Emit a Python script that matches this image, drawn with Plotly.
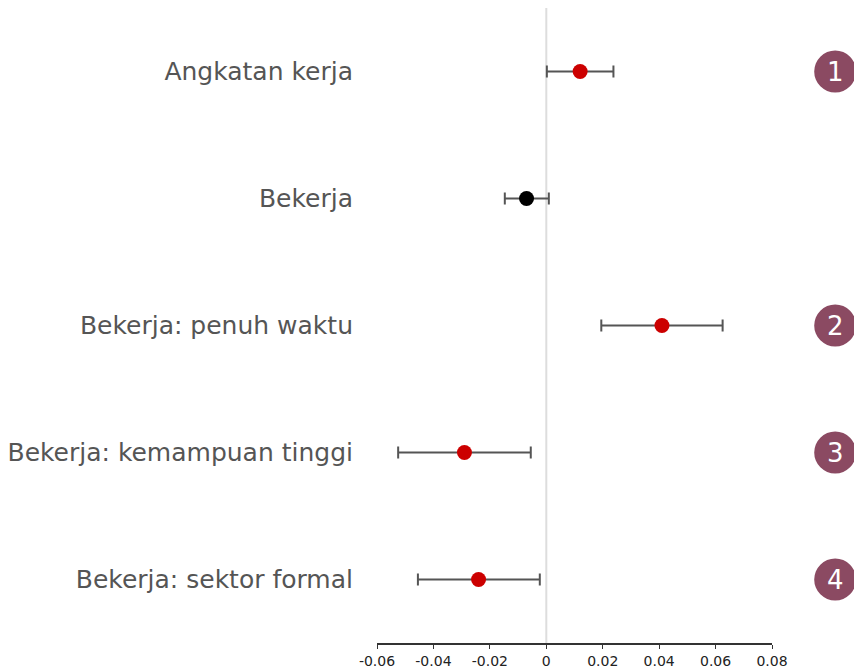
import plotly.graph_objects as go

categories = ["Angkatan kerja", "Bekerja", "Bekerja: penuh waktu",
              "Bekerja: kemampuan tinggi", "Bekerja: sektor formal"]
estimates = [0.012, -0.007, 0.041, -0.029, -0.024]
ci_low = [0.0002, -0.0147, 0.0195, -0.0525, -0.0455]
ci_high = [0.0238, 0.0009, 0.0625, -0.0055, -0.0023]
colors = ["#CC0000", "#000000", "#CC0000", "#CC0000", "#CC0000"]
badges = {"Angkatan kerja": "1", "Bekerja: penuh waktu": "2",
          "Bekerja: kemampuan tinggi": "3", "Bekerja: sektor formal": "4"}
tick_vals = [-0.06, -0.04, -0.02, 0, 0.02, 0.04, 0.06, 0.08]
tick_text = ["-0.06", "-0.04", "-0.02", "0", "0.02", "0.04", "0.06", "0.08"]

err_plus = [h - e for h, e in zip(ci_high, estimates)]
err_minus = [e - l for e, l in zip(estimates, ci_low)]

fig = go.Figure()
fig.add_trace(go.Scatter(
    x=estimates, y=categories, mode="markers",
    marker=dict(size=15, color=colors),
    error_x=dict(type="data", symmetric=False, array=err_plus, arrayminus=err_minus,
                 color="#555555", thickness=2, width=6),
    showlegend=False, hoverinfo="x+y"))

fig.add_shape(type="line", xref="x", yref="paper", x0=0, x1=0, y0=0, y1=1,
              line=dict(color="#DDDDDD", width=2), layer="below")

for cat, num in badges.items():
    fig.add_shape(type="circle", xref="paper", yref="y",
                  xsizemode="pixel", ysizemode="pixel",
                  xanchor=1.16, yanchor=cat, x0=-21, x1=21, y0=-21, y1=21,
                  fillcolor="#8B4A62", line=dict(width=0))
    fig.add_annotation(x=1.16, y=cat, xref="paper", yref="y", text=num,
                       showarrow=False, font=dict(color="white", size=26, family="DejaVu Sans"),
                       xanchor="center", yanchor="middle")

fig.update_layout(
    width=854, height=670,
    margin=dict(l=377, r=82, t=8, b=27, autoexpand=False),
    paper_bgcolor="white", plot_bgcolor="white",
    font=dict(family="DejaVu Sans"),
    xaxis=dict(range=[-0.06, 0.08], tickvals=tick_vals, ticktext=tick_text,
               showgrid=False, zeroline=False, showline=True, linecolor="#333333",
               linewidth=1.5, ticks="outside", ticklen=4, tickcolor="#333333",
               automargin=False,
               tickfont=dict(size=14, color="#222222")),
    yaxis=dict(categoryorder="array", categoryarray=categories, autorange=False,
               range=[4.5, -0.5], showgrid=False, zeroline=False, showline=False,
               ticks="", ticklabelstandoff=23, automargin=False,
               tickfont=dict(size=25, color="#555555")),
)

fig.write_html("out.html")
